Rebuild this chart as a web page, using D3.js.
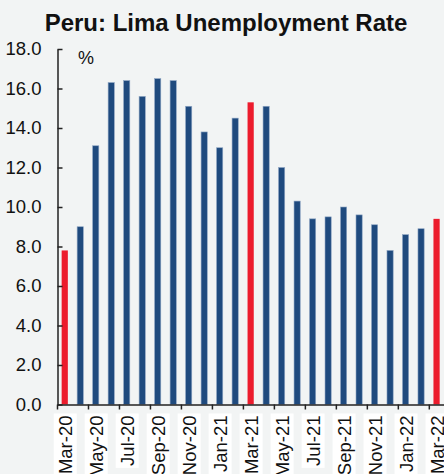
<!DOCTYPE html>
<html>
<head>
<meta charset="utf-8">
<script src="https://cdn.jsdelivr.net/npm/d3@7"></script>
<style>
  html, body { margin: 0; padding: 0; background: #f2f4f4; }
  svg { display: block; font-family: "Liberation Sans", Arial, sans-serif; }
</style>
</head>
<body>
<div id="chart"></div>
<script>
const width = 444;
const height = 474;

const months = ["Mar-20", "Apr-20", "May-20", "Jun-20", "Jul-20", "Aug-20", "Sep-20", "Oct-20",
    "Nov-20", "Dec-20", "Jan-21", "Feb-21", "Mar-21", "Apr-21", "May-21", "Jun-21", "Jul-21",
    "Aug-21", "Sep-21", "Oct-21", "Nov-21", "Dec-21", "Jan-22", "Feb-22", "Mar-22"];
const rates = [7.8, 9.0, 13.1, 16.3, 16.4, 15.6, 16.5, 16.4, 15.1, 13.8, 13.0, 14.5, 15.3,
    15.1, 12.0, 10.3, 9.4, 9.5, 10.0, 9.6, 9.1, 7.8, 8.6, 8.9, 9.4];
const highlighted = ["Mar-20", "Mar-21", "Mar-22"];
const yTicks = [0, 2, 4, 6, 8, 10, 12, 14, 16, 18];

const blue = "#1f4a7e";
const red = "#ec1c2d";

const data = months.map((m, i) => ({ month: m, value: rates[i] }));

const svg = d3.select("#chart")
    .append("svg")
        .attr("width", width)
        .attr("height", height);

const x = d3.scaleBand()
    .domain(months)
    .range([57.5, 444.8])
    .padding(0);

const y = d3.scaleLinear()
    .domain([0, 18])
    .range([404.5, 49]);

// title
svg.append("text")
    .attr("x", 226)
    .attr("y", 31)
    .attr("text-anchor", "middle")
    .style("font-size", "24px")
    .style("font-weight", "bold")
    .attr("fill", "#111")
    .text("Peru: Lima Unemployment Rate");

svg.append("text")
    .attr("x", 78)
    .attr("y", 64)
    .style("font-size", "18px")
    .attr("fill", "#111")
    .text("%");

// bars
const barW = x.bandwidth() * 0.4;
svg.append("g")
    .selectAll("rect")
    .data(data)
    .enter()
    .append("rect")
        .attr("x", d => x(d.month) + (x.bandwidth() - barW) / 2 - 0.5)
        .attr("y", d => y(d.value))
        .attr("width", barW)
        .attr("height", d => y(0) - y(d.value))
        .attr("fill", d => highlighted.includes(d.month) ? red : blue)
        .attr("stroke", d => highlighted.includes(d.month) ? "none" : "#8fa6c4")
        .attr("stroke-width", 0.6);

// y axis
const yAxis = svg.append("g")
    .attr("transform", "translate(57.5,0)")
    .call(d3.axisLeft(y)
        .tickValues(yTicks)
        .tickSize(-5)
        .tickSizeOuter(0)
        .tickPadding(16)
        .tickFormat(d3.format(".1f")));
yAxis.selectAll("text")
    .style("font-size", "18.5px")
    .attr("fill", "#111");
yAxis.selectAll("line, path").attr("stroke", "#222").attr("stroke-width", 1.5);

// x axis
const labelled = months.filter((m, i) => i % 2 === 0);
const xAxis = svg.append("g")
    .attr("transform", "translate(0," + y(0) + ")")
    .call(d3.axisBottom(x)
        .tickValues(labelled)
        .tickSize(5)
        .tickSizeOuter(0)
        .tickPadding(10));
xAxis.selectAll("path, line").attr("stroke", "#222").attr("stroke-width", 1.5);
xAxis.selectAll(".tick line")
    .attr("x1", -x.bandwidth() / 2)
    .attr("x2", -x.bandwidth() / 2);
xAxis.selectAll(".tick text")
    .style("font-size", "18.5px")
    .attr("fill", "#111")
    .attr("text-anchor", "end")
    .attr("dy", "0.35em")
    .attr("transform", "translate(0,11) rotate(-90)")
    .attr("x", 0)
    .attr("y", 0);

// white boxes behind the month labels
xAxis.selectAll(".tick").each(function() {
    const t = d3.select(this).select("text");
    const bb = t.node().getBBox();
    d3.select(this).insert("rect", "text")
        .attr("x", bb.x - 2)
        .attr("y", bb.y - 1)
        .attr("width", bb.width + 4)
        .attr("height", bb.height + 2)
        .attr("transform", t.attr("transform"))
        .attr("fill", "#fff");
});
</script>
</body>
</html>
